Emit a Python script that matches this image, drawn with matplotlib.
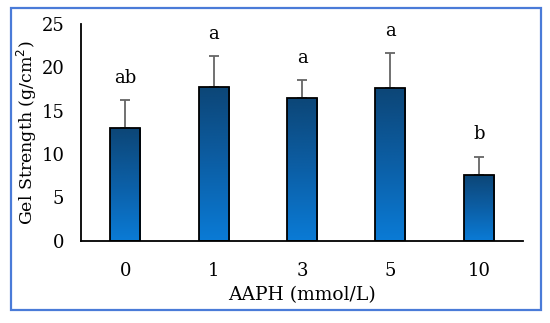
import numpy as np
import matplotlib
matplotlib.use("Agg")
import matplotlib.pyplot as plt
from matplotlib.colors import LinearSegmentedColormap
from matplotlib.patches import Rectangle

# data
doses = ["0", "1", "3", "5", "10"]
strength = [13.0, 17.7, 16.5, 17.6, 7.6]
sd = [3.2, 3.6, 2.0, 4.0, 2.1]
letters = ["ab", "a", "a", "a", "b"]

plt.rcParams['font.family'] = ['DejaVu Serif']
plt.rcParams['font.size'] = 10.5

fig = plt.figure(figsize=(5.5, 3.23), dpi=100)
ax = fig.add_axes([81/550, 1-240.7/323, 442/550, 216.7/323])

x = np.arange(len(doses))
bars = ax.bar(x, strength, width=0.34, color='none', edgecolor='black', linewidth=1.3, zorder=3)

# vertical gradient inside every bar
cmap = LinearSegmentedColormap.from_list("blu", ["#0a7bd6", "#0c5fa6", "#0c4677"])
grad = np.linspace(0, 1, 256).reshape(-1, 1)
for b in bars:
    x0, y0 = b.get_x(), b.get_y()
    w, h = b.get_width(), b.get_height()
    im = ax.imshow(grad, cmap=cmap, origin='lower', aspect='auto',
                   extent=[x0, x0 + w, y0, y0 + h], zorder=2)
    im.set_clip_path(b)

ax.errorbar(x, strength, yerr=[np.zeros(len(sd)), sd], fmt='none',
            ecolor='#666666', elinewidth=1.3, capsize=3.5, capthick=1.3, zorder=1)

for i, lab in enumerate(letters):
    ax.text(x[i], strength[i] + sd[i] + 2.6, lab, ha='center', va='center', fontsize=13)

ax.set_xlim(-0.5, len(doses) - 0.5)
ax.set_ylim(0, 25)
ax.set_yticks([0, 5, 10, 15, 20, 25])
ax.set_xticks(x)
ax.set_xticklabels(doses)
ax.tick_params(length=0, labelsize=13)
ax.tick_params(axis='y', pad=12)
ax.tick_params(axis='x', pad=15)
for s in ['top', 'right']:
    ax.spines[s].set_visible(False)
ax.spines['left'].set_linewidth(1.3)
ax.spines['bottom'].set_linewidth(1.3)
ax.set_xlabel("AAPH (mmol/L)", fontsize=13.5, labelpad=5)
ax.set_ylabel("Gel Strength (g/cm$^2$)", fontsize=12.5, labelpad=2)

# frame around the whole figure
frame = Rectangle((10.5/550, 1-310/323), 530/550, 302.5/323, transform=fig.transFigure,
                  fill=False, edgecolor='#4a7bd8', linewidth=1.6)
fig.patches.append(frame)

fig.savefig("out.png", dpi=100)
